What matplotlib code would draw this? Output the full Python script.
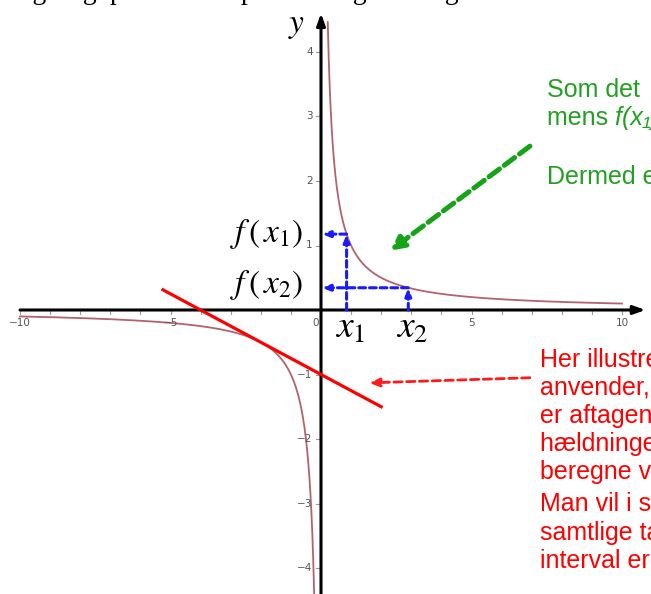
import numpy as np
import matplotlib
matplotlib.use("Agg")
import matplotlib.pyplot as plt

plt.rcParams["mathtext.fontset"] = "stix"

W, H = 651, 594
DPI = 100

# axis range and ticks
x_ticks = [-10, -5, 0, 5, 10]
y_ticks = [-4, -3, -2, -1, 1, 2, 3, 4]
x_minor = list(range(-10, 11))
y_minor = [-4, -3, -2, -1, 1, 2, 3, 4]

# chosen points on the decreasing branch
x1, x2 = 0.85, 2.9
# point of tangency on the negative branch and the drawn span of the tangent
tangent_at = -2.0
tangent_span = (-5.25, 2.0)

green_lines = ["Som det  ses, er x\u2081 < x\u2082,", "", "", "Dermed er f aftagende."]
red_lines = [
    "Her illustreres det, hvordan man",
    "anvender, at en funktion",
    "er aftagende, hvis",
    "hældningen er negativ, og",
    "beregne værdien af",
    "Man vil i stedet se på",
    "samtlige tangenter, og i et",
    "interval er de alle negative.",
]

fig = plt.figure(figsize=(W / DPI, H / DPI), dpi=DPI)
ax = fig.add_axes([0, 0, 1, 1])
px_x, px_y = 30.1, 64.5
x0_px, y0_px = 321, 310
ax.set_xlim(-x0_px / px_x, (W - x0_px) / px_x)
ax.set_ylim((y0_px - H) / px_y, y0_px / px_y)
ax.axis("off")


def f(x):
    return 1.0 / x


curve_col = "#b4626c"
xr = np.linspace(0.224, 10, 600)
xl = np.linspace(-10, -0.225, 600)
ax.plot(xr, f(xr), color=curve_col, lw=1.3, zorder=3)
ax.plot(xl, f(xl), color=curve_col, lw=1.3, zorder=3)

# coordinate axes with arrows
ax.annotate("", xy=(10.78, 0), xytext=(-10, 0),
            arrowprops=dict(arrowstyle="-|>,head_length=0.7,head_width=0.25",
                            color="black", lw=2.2, shrinkA=0, shrinkB=0), zorder=4)
ax.annotate("", xy=(0, 4.6), xytext=(0, -4.6),
            arrowprops=dict(arrowstyle="-|>,head_length=0.7,head_width=0.25",
                            color="black", lw=2.2, shrinkA=0, shrinkB=0), zorder=4)

# ticks
tick_col = "#9a9a9a"
for t in x_minor:
    ax.plot([t, t], [0, -0.06], color=tick_col, lw=0.8, zorder=2)
for t in y_minor:
    ax.plot([0, -0.17], [t, t], color=tick_col, lw=0.8, zorder=2)
lab_col = "#555555"
for t in x_ticks:
    lbl = "0" if t == 0 else f"{t}".replace("-", "\u2212")
    xx = -0.17 if t == 0 else t
    ax.text(xx, -0.2, lbl, ha="center", va="center", fontsize=7.5,
            color=lab_col, family="Liberation Sans Narrow")
for t in y_ticks:
    lbl = f"{t}".replace("-", "\u2212")
    ax.text(-0.28, t, lbl, ha="right", va="center", fontsize=7.5,
            color=lab_col, family="Liberation Sans Narrow")

# axis names
ax.text(-0.8, 4.42, "$y$", fontsize=24, ha="center", va="center")
ax.text(10.98, 0.3, "$x$", fontsize=24, ha="left", va="center")

# blue guides from x-values up to the graph and over to the y-axis
blue = "#1a1aff"
arr = dict(arrowstyle="-|>,head_length=0.45,head_width=0.18", color=blue,
           lw=2.2, linestyle=(0, (2.2, 1.3)), shrinkA=0, shrinkB=0)
for xv, name in ((x1, "x_1"), (x2, "x_2")):
    ax.annotate("", xy=(xv, f(xv)), xytext=(xv, 0), arrowprops=arr, zorder=5)
    ax.annotate("", xy=(0.03, f(xv)), xytext=(xv, f(xv)), arrowprops=arr, zorder=5)
    ax.text(xv + 0.12, -0.28, "$%s$" % name, fontsize=27, ha="center", va="center")
ax.text(-0.62, f(x1) + 0.0, r"$f\,\left(\,x_1\right)$", fontsize=24, ha="right", va="center")
ax.text(-0.62, f(x2) + 0.04, r"$f\,\left(\,x_2\right)$", fontsize=24, ha="right", va="center")

# tangent line
slope = -1.0 / tangent_at ** 2
tx = np.array(tangent_span)
ax.plot(tx, slope * (tx - tangent_at) + f(tangent_at), color="#ff0000", lw=2.3, zorder=6)

# pointer arrows
ax.annotate("", xy=(2.3, 0.92), xytext=(6.94, 2.54),
            arrowprops=dict(arrowstyle="-|>,head_length=0.8,head_width=0.4",
                            color="#17a317", lw=3.6, linestyle=(0, (2.6, 1.2)),
                            shrinkA=0, shrinkB=0), zorder=6)
ax.annotate("", xy=(1.6, -1.13), xytext=(6.94, -1.05),
            arrowprops=dict(arrowstyle="-|>,head_length=0.6,head_width=0.25",
                            color="#ff1a1a", lw=2.0, linestyle=(0, (3, 1.6)),
                            shrinkA=0, shrinkB=0), zorder=6)

# side notes
sans = "Liberation Sans"
green = "#22a022"
fs = 18
fig.text(547 / W, 1 - 77 / H, "\n".join(green_lines), color=green, fontsize=fs,
         family=sans, va="top", ha="left", linespacing=1.28)
t_mens = fig.text(547 / W, 1 - 125 / H, "mens ", color=green, fontsize=fs,
                  family=sans, va="baseline", ha="left")
ax.annotate("f(x\u2081) > f(x\u2082)", xy=(1, 0), xycoords=t_mens, va="bottom",
            ha="left", color=green, fontsize=fs, family=sans, style="italic")
fig.text(540 / W, 1 - 347 / H, "\n".join(red_lines), color="#ff0000", fontsize=fs,
         family=sans, va="top", ha="left", linespacing=1.23)

# tail of the preceding line of body text (only its descenders show)
tail_words = [("Tag", 47, "right"), ("og", 97, "right"), ("på", 110, "left"),
              ("på", 241, "left"), ("og", 367, "right"), ("og", 459, "right")]
for word, xpx, align in tail_words:
    fig.text(xpx / W, 1 + 1 / H, word, fontsize=20, family="Liberation Serif",
             va="baseline", ha=align)

fig.savefig("out.png", dpi=DPI)
